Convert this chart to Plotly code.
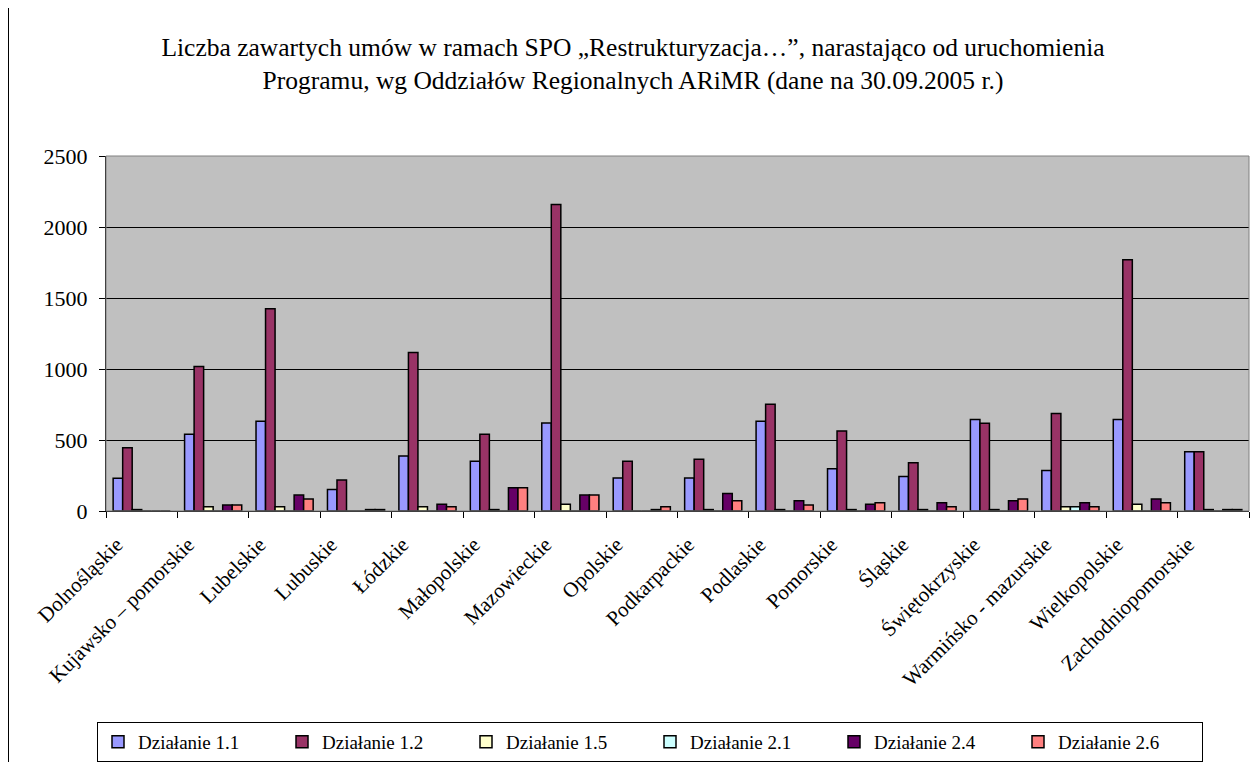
import plotly.graph_objects as go

categories = ["Dolnośląskie", "Kujawsko – pomorskie", "Lubelskie", "Lubuskie", "Łódzkie",
              "Małopolskie", "Mazowieckie", "Opolskie", "Podkarpackie", "Podlaskie",
              "Pomorskie", "Śląskie", "Świętokrzyskie", "Warmińsko - mazurskie",
              "Wielkopolskie", "Zachodniopomorskie"]

dz_1_1 = [230, 541, 632, 152, 388, 351, 620, 232, 232, 632, 297, 243, 644, 286, 644, 417]
dz_1_2 = [445, 1018, 1425, 218, 1117, 541, 2158, 351, 365, 751, 564, 339, 618, 686, 1770, 417]
dz_1_5 = [10, 30, 30, 0, 30, 10, 47, 0, 10, 10, 10, 10, 10, 30, 47, 10]
dz_2_1 = [0, 0, 0, 0, 0, 0, 0, 0, 0, 0, 0, 0, 0, 30, 0, 0]
dz_2_4 = [0, 42, 112, 10, 47, 164, 112, 10, 124, 73, 47, 58, 73, 58, 84, 10]
dz_2_6 = [0, 42, 84, 10, 30, 164, 112, 30, 73, 42, 58, 30, 84, 30, 58, 10]

series_names = ["Działanie 1.1", "Działanie 1.2", "Działanie 1.5",
                "Działanie 2.1", "Działanie 2.4", "Działanie 2.6"]
series_values = [dz_1_1, dz_1_2, dz_1_5, dz_2_1, dz_2_4, dz_2_6]
series_colors = ["#9999FF", "#993366", "#FFFFCC", "#CCFFFF", "#660066", "#FF8080"]

y_ticks = [0, 500, 1000, 1500, 2000, 2500]

FONT = "Liberation Serif, Times New Roman, serif"

fig = go.Figure()
for name, vals, col in zip(series_names, series_values, series_colors):
    fig.add_trace(go.Bar(
        x=categories, y=vals, name=name,
        marker=dict(color=col, line=dict(color="black", width=1.5)),
    ))

# page is offset by the 8px body margin
OFF = 8
W, H = 1260 - OFF, 762 - OFF
L, T = 106 - OFF, 156 - OFF
R = W - (1249 - OFF)
B = H - (511 - OFF)
pw = W - L - R
ph = H - T - B

def px_x(x):  # page pixel -> paper
    return (x - OFF - L) / pw

def px_y(y):
    return (H - B - (y - OFF)) / ph

fig.update_layout(
    width=W, height=H,
    margin=dict(l=L, r=R, t=T, b=B, pad=0, autoexpand=False),
    paper_bgcolor="white",
    plot_bgcolor="#C0C0C0",
    barmode="group",
    bargap=0.2,
    bargroupgap=0,
    font=dict(family=FONT, size=20, color="black"),
    title=dict(
        text="Liczba zawartych umów w ramach SPO „Restrukturyzacja…”, narastająco od uruchomienia<br>"
             "Programu, wg Oddziałów Regionalnych ARiMR (dane na 30.09.2005 r.)",
        x=(633 - OFF) / W, xanchor="center", xref="container",
        y=1 - (55.5 - OFF) / H, yanchor="middle", yref="container",
        font=dict(family=FONT, size=25.5, color="black"),
    ),
    showlegend=True,
    legend=dict(
        orientation="h",
        x=px_x(97), xanchor="left",
        y=px_y(722), yanchor="top",
        bgcolor="white",
        bordercolor="black",
        borderwidth=1,
        font=dict(family=FONT, size=19, color="black"),
        entrywidth=139, entrywidthmode="pixels",
        traceorder="normal",
    ),
    xaxis=dict(
        type="category",
        tickangle=-45,
        tickson="boundaries",
        ticks="outside", ticklen=6, tickcolor="black", tickwidth=1,
        showline=True, linecolor="black", linewidth=1,
        showgrid=False,
        ticklabelstandoff=12,
        ticklabelshift=-25,
        tickfont=dict(family=FONT, size=21, color="black"),
    ),
    yaxis=dict(
        range=[0, 2500],
        tickvals=y_ticks,
        ticks="outside", ticklen=6, tickcolor="black", tickwidth=1,
        showline=True, linecolor="black", linewidth=1,
        showgrid=True, gridcolor="black", gridwidth=1,
        zeroline=False,
        ticklabelstandoff=7,
        tickfont=dict(family=FONT, size=22, color="black"),
    ),
    shapes=[
        dict(type="line", xref="paper", yref="paper",
             x0=px_x(8.5), x1=px_x(8.5), y0=px_y(4.5), y1=px_y(762),
             line=dict(color="black", width=1)),
        dict(type="line", xref="paper", yref="paper",
             x0=px_x(8.5), x1=px_x(1260), y0=px_y(4.5), y1=px_y(4.5),
             line=dict(color="black", width=1)),
        dict(type="rect", xref="paper", yref="paper",
             x0=0, x1=1, y0=0, y1=1,
             line=dict(color="#808080", width=1), layer="above"),
    ],
)

fig.write_html("out.html")
